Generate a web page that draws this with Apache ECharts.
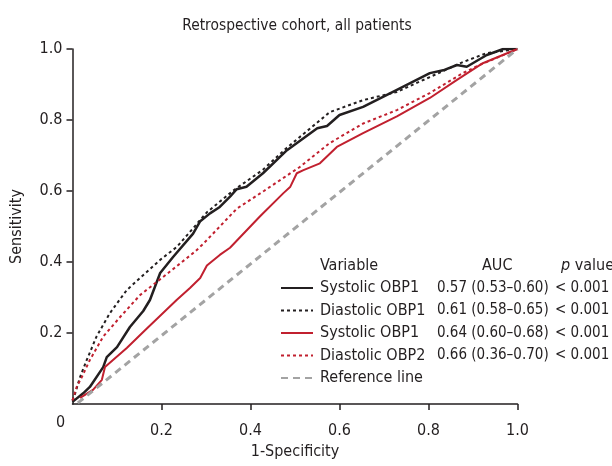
<!DOCTYPE html>
<html>
<head>
<meta charset="utf-8">
<script src="https://cdn.jsdelivr.net/npm/echarts@6/dist/echarts.min.js"></script>
<style>
  html, body { margin: 0; padding: 0; background: #fff; }
  #chart { width: 612px; height: 466px; }
</style>
</head>
<body>
<div id="chart"></div>
<script>
// DATA
const ticks = [0, 0.2, 0.4, 0.6, 0.8, 1.0];

const sysObp1 = [
  [0, 0.006], [0.024, 0.03], [0.039, 0.048], [0.069, 0.104], [0.077, 0.132],
  [0.1, 0.16], [0.129, 0.217], [0.159, 0.262], [0.174, 0.293], [0.197, 0.369],
  [0.226, 0.414], [0.271, 0.48], [0.287, 0.515], [0.309, 0.537], [0.331, 0.555],
  [0.354, 0.584], [0.369, 0.605], [0.391, 0.612], [0.428, 0.65], [0.482, 0.715],
  [0.55, 0.777], [0.572, 0.783], [0.6, 0.814], [0.653, 0.837], [0.729, 0.885],
  [0.803, 0.932], [0.833, 0.94], [0.864, 0.955], [0.886, 0.95], [0.931, 0.983],
  [0.968, 1.0], [1, 1]
];
const diaObp1 = [
  [0, 0.01], [0.006, 0.03], [0.017, 0.076], [0.032, 0.124], [0.054, 0.19],
  [0.084, 0.256], [0.122, 0.321], [0.152, 0.355], [0.197, 0.406], [0.235, 0.443],
  [0.264, 0.485], [0.302, 0.54], [0.361, 0.601], [0.428, 0.66], [0.48, 0.72],
  [0.578, 0.822], [0.653, 0.856], [0.729, 0.879], [0.803, 0.921], [0.877, 0.963],
  [0.93, 0.988], [1, 1]
];
const sysObp1b = [
  [0.017, 0.017], [0.046, 0.04], [0.066, 0.068], [0.073, 0.104], [0.091, 0.124],
  [0.122, 0.158], [0.163, 0.208], [0.234, 0.293], [0.264, 0.327], [0.287, 0.355],
  [0.302, 0.39], [0.331, 0.42], [0.354, 0.44], [0.421, 0.528], [0.474, 0.594],
  [0.489, 0.611], [0.504, 0.65], [0.519, 0.659], [0.556, 0.678], [0.594, 0.724],
  [0.653, 0.763], [0.729, 0.81], [0.803, 0.862], [0.864, 0.913], [0.922, 0.96],
  [1, 1]
];
const diaObp2 = [
  [0, 0.01], [0.01, 0.05], [0.021, 0.076], [0.039, 0.124], [0.069, 0.19],
  [0.107, 0.245], [0.152, 0.307], [0.219, 0.373], [0.275, 0.429], [0.293, 0.45],
  [0.369, 0.55], [0.43, 0.6], [0.51, 0.667], [0.578, 0.735], [0.653, 0.79],
  [0.729, 0.828], [0.803, 0.876], [0.877, 0.932], [0.915, 0.955], [1, 1]
];
const refLine = [[0.012, 0.003], [1, 1]];

const seriesNames = ["Systolic OBP1", "Diastolic OBP1", "Systolic OBP1 ", "Diastolic OBP2", "Reference line"];
const aucText = ["0.57 (0.53\u20130.60)", "0.61 (0.58\u20130.65)", "0.64 (0.60\u20130.68)", "0.66 (0.36\u20130.70)", ""];
const pText = ["< 0.001", "< 0.001", "< 0.001", "< 0.001", ""];

// STYLE
const FONT = "'Liberation Sans Narrow', 'DejaVu Sans Condensed', 'Liberation Sans', sans-serif";
const FS = 16;
const BLACK = "#231f20";
const RED = "#c1202f";
const GRAY = "#a3a3a3";

function mkLine(name, data, color, width, type) {
  return {
    name: name,
    type: "line",
    data: data,
    symbol: "none",
    smooth: false,
    lineStyle: { color: color, width: width, type: type },
    itemStyle: { color: color },
    z: 3
  };
}

var chart = echarts.init(document.getElementById("chart"));

chart.setOption({
  animation: false,
  title: {
    text: "Retrospective cohort, all patients",
    left: 292, top: 13, textAlign: "center",
    textStyle: { fontFamily: FONT, fontSize: 15.4, fontWeight: "normal", color: BLACK }
  },
  grid: { left: 72.5, right: 94.5, top: 49, bottom: 62 },
  xAxis: {
    type: "value", min: 0, max: 1, interval: 0.2,
    name: "1-Specificity", nameLocation: "middle", nameGap: 40,
    nameTextStyle: { fontFamily: FONT, fontSize: FS, color: BLACK },
    axisLine: { lineStyle: { color: BLACK, width: 1.5 } },
    axisTick: { length: 6, lineStyle: { color: BLACK, width: 1.5 } },
    axisLabel: {
      fontFamily: FONT, fontSize: FS, color: BLACK, margin: 19, showMinLabel: false,
      formatter: v => (ticks.indexOf(v) >= 0 ? v.toFixed(1) : "")
    },
    splitLine: { show: false }
  },
  yAxis: {
    type: "value", min: 0, max: 1, interval: 0.2,
    name: "Sensitivity", nameLocation: "middle", nameGap: 48,
    nameTextStyle: { fontFamily: FONT, fontSize: FS, color: BLACK },
    axisLine: { show: true, lineStyle: { color: BLACK, width: 1.5 } },
    axisTick: { show: true, length: 6, lineStyle: { color: BLACK, width: 1.5 } },
    axisLabel: {
      fontFamily: FONT, fontSize: FS, color: BLACK, margin: 10, showMinLabel: false,
      formatter: v => v.toFixed(1)
    },
    splitLine: { show: false }
  },
  legend: {
    orient: "vertical",
    left: 275, top: 275,
    itemWidth: 32, itemHeight: 12, itemGap: 6.5,
    data: seriesNames,
    selectedMode: false,
    itemStyle: { opacity: 0 },
    formatter: function (name) {
      var i = seriesNames.indexOf(name);
      if (i === 4) return "{a|" + name + "}";
      return "{a|" + name.trim() + "}{b|" + aucText[i] + "}{c|" + pText[i] + "}";
    },
    textStyle: {
      fontFamily: FONT, fontSize: FS, color: BLACK, padding: [0, 0, 0, 2],
      rich: {
        a: { fontFamily: FONT, fontSize: FS, color: BLACK, width: 117 },
        b: { fontFamily: FONT, fontSize: 15, color: BLACK, width: 118 },
        c: { fontFamily: FONT, fontSize: 15, color: BLACK }
      }
    }
  },
  graphic: [
    { type: "text", left: 320, top: 258, style: { text: "Variable", font: FS + "px " + FONT, fill: BLACK } },
    { type: "text", left: 482, top: 258, style: { text: "AUC", font: FS + "px " + FONT, fill: BLACK } },
    { type: "text", left: 561, top: 258, style: {
        text: "{i|p} value", font: FS + "px " + FONT, fill: BLACK,
        rich: { i: { fontStyle: "italic", fontFamily: FONT, fontSize: FS, fill: BLACK } }
      } },
    { type: "text", left: 56, top: 415, style: { text: "0", font: FS + "px " + FONT, fill: BLACK } }
  ],
  series: [
    mkLine(seriesNames[0], sysObp1, BLACK, 2.5, "solid"),
    mkLine(seriesNames[1], diaObp1, BLACK, 2, [3, 3]),
    mkLine(seriesNames[2], sysObp1b, RED, 2, "solid"),
    mkLine(seriesNames[3], diaObp2, RED, 2, [3, 3]),
    mkLine(seriesNames[4], refLine, GRAY, 3, [7, 5])
  ]
});
</script>
</body>
</html>
